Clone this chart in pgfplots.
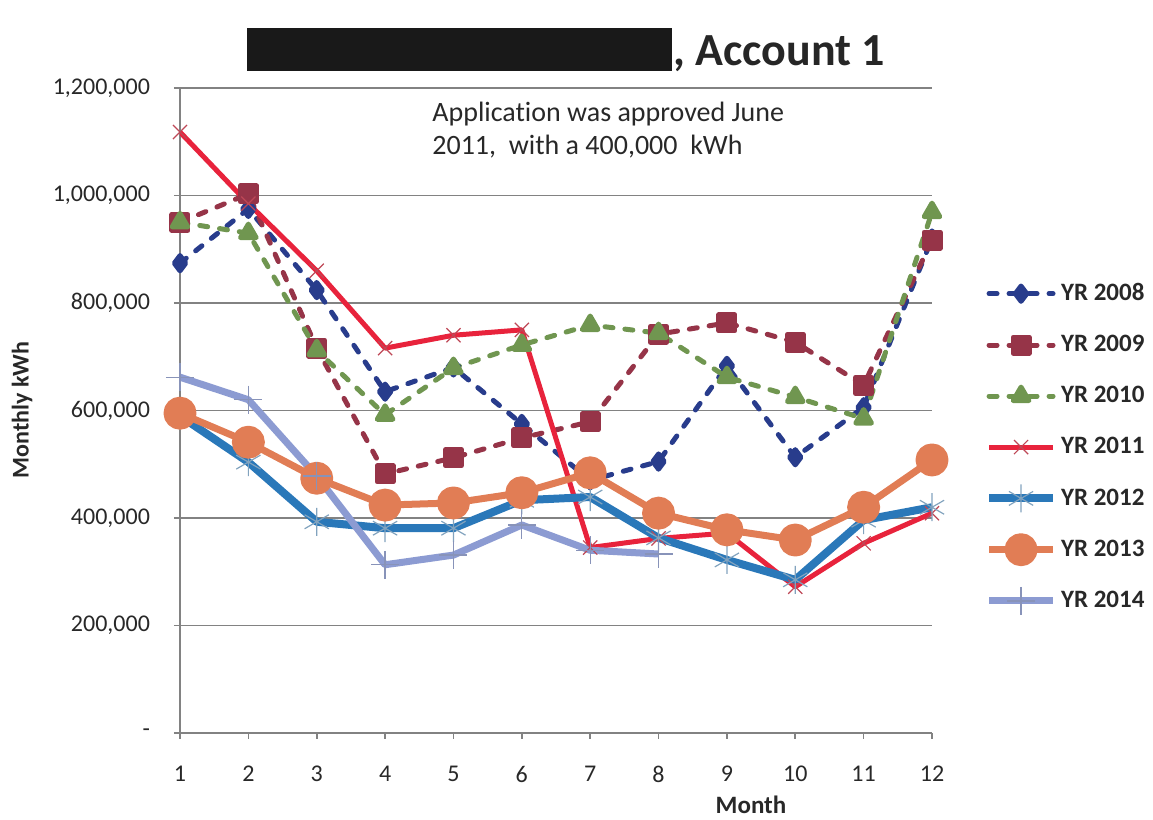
\documentclass[border=0pt]{standalone}
\usepackage{fontspec}
\setmainfont{Carlito}[Ligatures=NoCommon]
\usepackage{pgfplots}
\pgfplotsset{compat=1.18}

\definecolor{c08}{RGB}{40,60,140}
\definecolor{c09}{RGB}{150,52,72}
\definecolor{c10}{RGB}{112,150,80}
\definecolor{c11}{RGB}{232,35,60}
\definecolor{c12}{RGB}{42,120,185}
\definecolor{c13}{RGB}{225,125,85}
\definecolor{c14}{RGB}{140,155,210}
\definecolor{gridgray}{RGB}{130,130,130}
\definecolor{txt}{RGB}{40,40,40}

\begin{document}
\begin{tikzpicture}
\path[use as bounding box] (0,0) rectangle (576.5pt,410pt);

\begin{axis}[
  at={(90pt,43.5pt)}, anchor=south west,
  scale only axis, width=376pt, height=322.5pt,
  xmin=1, xmax=12, ymin=0, ymax=1200000,
  xtick={1,...,12},
  xticklabels={1,2,3,4,5,6,7,8,9,10,11,12},
  ytick={0,200000,400000,600000,800000,1000000,1200000},
  yticklabels={-,{200,000},{400,000},{600,000},{800,000},{1,000,000},{1,200,000}},
  scaled y ticks=false,
  axis x line*=bottom, axis y line*=left,
  axis line style={gridgray, line width=0.9pt, -},
  ymajorgrids, grid style={gridgray, line width=0.9pt},
  tick align=outside, major tick length=3pt,
  tick style={gridgray, line width=0.8pt},
  ticklabel style={font=\fontsize{12}{14}\selectfont, text=txt},
  yticklabel style={xshift=-8.5pt},
  xticklabel style={yshift=-10pt},
  legend cell align=left,
  legend style={at={(1.07,0.443)}, anchor=west, draw=none, fill=none,
    font=\bfseries\fontsize{12.5}{14}\selectfont, text=txt,
    row sep=11.8pt, inner sep=0pt},
  legend image code/.code={\draw[mark repeat=2,mark phase=2,#1]
    plot coordinates {(0pt,0pt)(16pt,0pt)(32pt,0pt)};},
  every axis plot/.append style={line join=round},
]
\addplot[c08, line width=2.5pt, line cap=round, dash pattern=on 4pt off 6pt,
  mark=diamond*, mark size=3.8pt, mark options={solid, fill=c08}]
  coordinates {(1,874000)(2,975000)(3,824000)(4,635000)(5,680000)(6,575000)
  (7,470000)(8,505000)(9,683000)(10,513000)(11,606000)(12,920000)};
\addlegendentry{YR 2008}
\addplot[c09, line width=2.5pt, line cap=round, dash pattern=on 4pt off 6pt,
  mark=square*, mark size=4pt, mark options={solid, fill=c09}]
  coordinates {(1,950000)(2,1003000)(3,716000)(4,482000)(5,512000)(6,549000)
  (7,579000)(8,742000)(9,763000)(10,727000)(11,647000)(12,917000)};
\addlegendentry{YR 2009}
\addplot[c10, line width=2.5pt, line cap=round, dash pattern=on 4pt off 6pt,
  mark=triangle*, mark size=4.5pt, mark options={solid, fill=c10}]
  coordinates {(1,950000)(2,930000)(3,712000)(4,592000)(5,679000)(6,722000)
  (7,759000)(8,744000)(9,662000)(10,625000)(11,585000)(12,969000)};
\addlegendentry{YR 2010}
\addplot[c11, line width=2.5pt,
  mark=x, mark size=5pt, mark options={solid, draw=c11!60!gray, line width=0.6pt}]
  coordinates {(1,1118000)(2,985000)(3,860000)(4,716000)(5,740000)(6,750000)
  (7,345000)(8,362000)(9,372000)(10,272000)(11,353000)(12,409000)};
\addlegendentry{YR 2011}
\addplot[c12, line width=4pt,
  mark=asterisk, mark size=7pt, mark options={solid, draw=c12!60!gray!70, line width=0.6pt}]
  coordinates {(1,590000)(2,504000)(3,393000)(4,381000)(5,381000)(6,433000)
  (7,439000)(8,363000)(9,322000)(10,285000)(11,396000)(12,420000)};
\addlegendentry{YR 2012}
\addplot[c13, line width=3.5pt,
  mark=*, mark size=6.5pt, mark options={solid, fill=c13, draw=c13}]
  coordinates {(1,595000)(2,541000)(3,474000)(4,424000)(5,428000)(6,447000)
  (7,484000)(8,409000)(9,378000)(10,359000)(11,420000)(12,508000)};
\addlegendentry{YR 2013}
\addplot[c14, line width=3.5pt,
  mark=+, mark size=7pt, mark options={solid, draw=c14!70!gray, line width=0.6pt}]
  coordinates {(1,662000)(2,620000)(3,478000)(4,313000)(5,331000)(6,387000)
  (7,340000)(8,333000)};
\addlegendentry{YR 2014}
\end{axis}

\begin{scope}[x=0.5pt, y=-0.5pt, shift={(0pt,410pt)}]
  % title, name blacked out
  \fill[black!90] (247,28) rectangle (672,71);
  \node[anchor=base west, inner sep=0pt, font=\bfseries\fontsize{23}{26}\selectfont, text=black!85]
    at (673,66) {, Account 1};
  % note, two lines
  \node[anchor=base west, inner sep=0pt, text=txt, font=\fontsize{14}{16.5}\selectfont]
    at (432,122) {Application was approved June};
  \node[anchor=base west, inner sep=0pt, text=txt, font=\fontsize{14}{16.5}\selectfont]
    at (432,155) {2011,\ \ with a 400,000\ \ kWh};
  % axis titles
  \node[rotate=90, inner sep=0pt, text=txt, font=\bfseries\fontsize{12}{14}\selectfont]
    at (22,410) {Monthly kWh};
  \node[inner sep=0pt, text=txt, font=\bfseries\fontsize{12.5}{14}\selectfont]
    at (751,805) {Month};
\end{scope}
\end{tikzpicture}
\end{document}
